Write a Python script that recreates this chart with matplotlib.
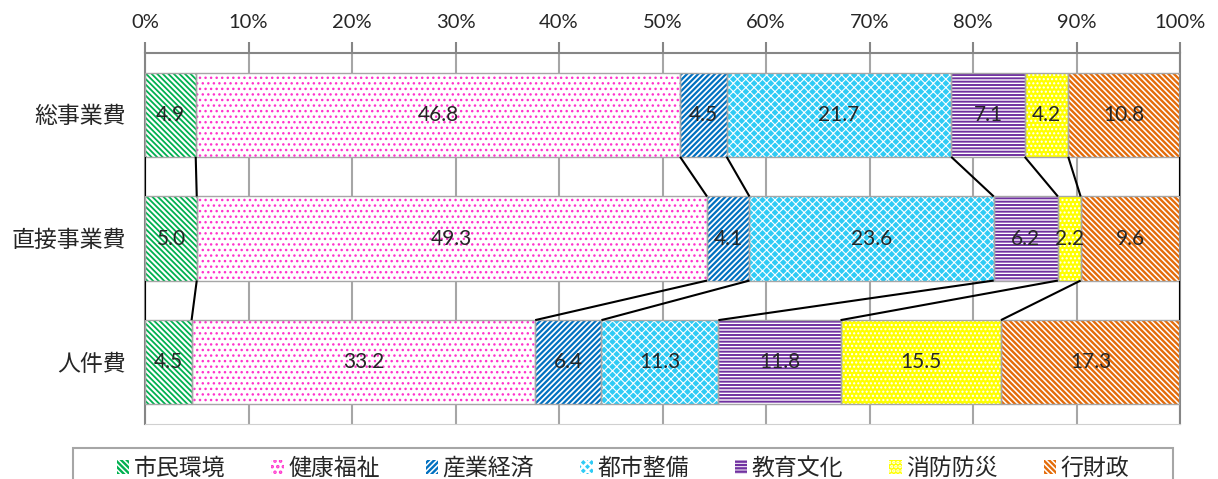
import matplotlib
matplotlib.use("Agg")
import matplotlib.pyplot as plt
from matplotlib.patches import Rectangle
import numpy as np

plt.rcParams['font.family'] = ['Lato', 'Noto Sans CJK JP', 'DejaVu Sans']

# data
rows = ['総事業費', '直接事業費', '人件費']
groups = ['市民環境', '健康福祉', '産業経済', '都市整備', '教育文化', '消防防災', '行財政']
shares = {
    '市民環境': [4.9, 5.0, 4.5],
    '健康福祉': [46.8, 49.3, 33.2],
    '産業経済': [4.5, 4.1, 6.4],
    '都市整備': [21.7, 23.6, 11.3],
    '教育文化': [7.1, 6.2, 11.8],
    '消防防災': [4.2, 2.2, 15.5],
    '行財政': [10.8, 9.6, 17.3],
}
xticks = [0, 10, 20, 30, 40, 50, 60, 70, 80, 90, 100]

# look of each group: face, hatch colour, hatch, hatch width
styles = {
    '市民環境': ('white', '#00B050', '\\' * 6, 1.3),
    '健康福祉': ('white', '#FF33CC', '...', 1.0),
    '産業経済': ('white', '#0070C0', '/' * 6, 1.6),
    '都市整備': ('#2FCBF5', 'white', 'xxxx', 0.8),
    '教育文化': ('white', '#7030A0', '-----', 1.4),
    '消防防災': ('#FFFF00', 'white', '....', 1.0),
    '行財政': ('white', '#E46C0A', '\\' * 6, 1.7),
}

fig = plt.figure(figsize=(12.18, 4.79), dpi=100)
ax = fig.add_axes([145/1218, 1-424/479, 1035/1218, 371/479])

ypos = np.arange(len(rows))
bar_h = 0.68
left = np.zeros(len(rows))
handles = []
edges = [left.copy()]
for g in groups:
    vals = np.array(shares[g])
    face, hcol, hatch, hlw = styles[g]
    plt.rcParams['hatch.linewidth'] = hlw
    b = ax.barh(ypos, vals, left=left, height=bar_h, color=face,
                edgecolor=hcol, hatch=hatch, linewidth=0, label=g, zorder=2)
    ax.barh(ypos, vals, left=left, height=bar_h, fill=False,
            edgecolor='#A6A6A6', linewidth=1, zorder=3)
    handles.append(b)
    for y, v, l in zip(ypos, vals, left):
        ax.text(l + v/2, y, f'{v:.1f}', ha='center', va='center',
                fontsize=15, color='#262626', zorder=4)
    left = left + vals
    edges.append(left.copy())

# series lines between rows
for e in edges:
    for i in range(len(rows) - 1):
        ax.plot([e[i], e[i+1]], [ypos[i] + bar_h/2, ypos[i+1] - bar_h/2],
                color='black', lw=1.5, zorder=4, solid_capstyle='butt')

ax.set_xlim(0, 100)
ax.set_ylim(len(rows) - 0.5, -0.5)
ax.set_xticks(xticks)
ax.set_xticklabels([f'{t}%' for t in xticks])
ax.xaxis.tick_top()
ax.tick_params(axis='x', length=8, width=1.5, color='#868686', pad=8,
               labelsize=14.5, labelcolor='#262626')
ax.set_yticks(ypos)
ax.set_yticklabels(rows)
ax.tick_params(axis='y', length=0, pad=14, labelsize=16.5, labelcolor='#262626')
ax.grid(axis='x', color='#A6A6A6', lw=1.5, zorder=0)
ax.set_axisbelow(True)
for s in ['top', 'left', 'right']:
    ax.spines[s].set_color('#868686')
    ax.spines[s].set_linewidth(1.5)
ax.spines['bottom'].set_color('#D0D0D0')

# legend box runs off the bottom of the picture
fig.patches.append(Rectangle((73/1218, -0.1), 1100/1218, 0.1 + 1 - 448/479,
                             transform=fig.transFigure, fill=False,
                             edgecolor='#A6A6A6', linewidth=1.5))
leg = fig.legend(handles=handles, loc='upper center', ncol=7,
                 bbox_to_anchor=(623/1218, 1-448/479), borderaxespad=0,
                 fontsize=16.5, frameon=False, columnspacing=2.0,
                 handlelength=0.55, handleheight=0.55,
                 handletextpad=0.2, borderpad=0.4, labelcolor='#262626')

fig.savefig('out.png', dpi=100)
